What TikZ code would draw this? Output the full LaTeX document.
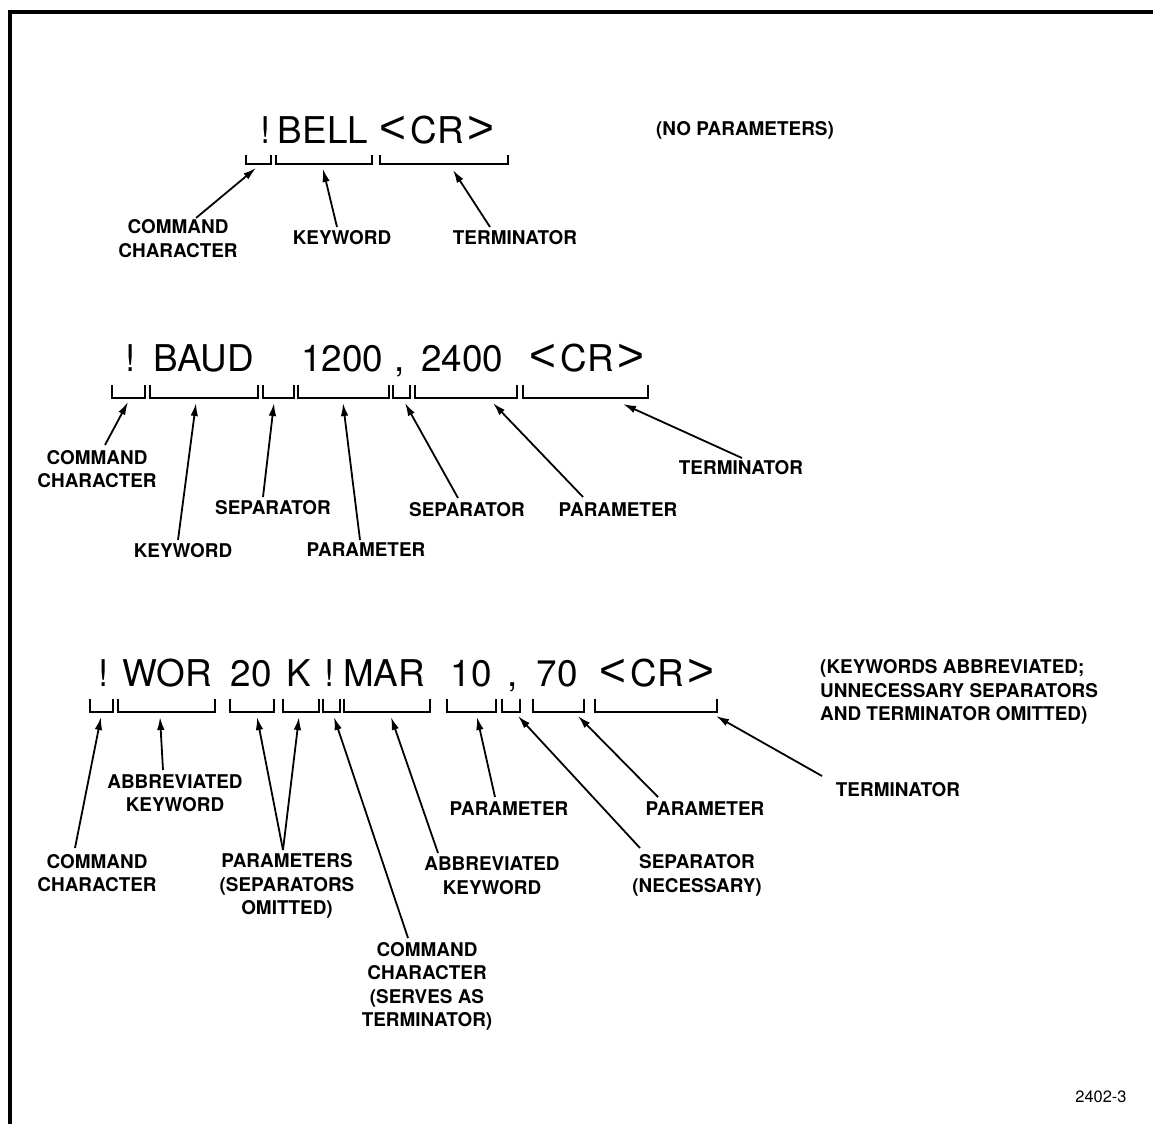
\documentclass[tikz,border=0pt]{standalone}
\usepackage{graphicx}
\usepackage{fontspec}
\setmainfont{TeX Gyre Heros}
\newfontfamily\ltfont{Liberation Sans}
\usetikzlibrary{arrows.meta}
\newcommand{\ubrk}[4]{\draw[brk] (#1,#3) -- (#1,#4) -- (#2,#4) -- (#2,#3);}
\newcommand{\cmdlt}{\scalebox{1.25}[1.27]{\ltfont <}}
\newcommand{\cmdgt}{\scalebox{1.25}[1.27]{\ltfont >}}
\newcommand{\crtok}{\cmdlt\hspace{4bp}CR\hspace{4bp}\cmdgt}
\begin{document}
\begin{tikzpicture}[x=1bp,y=-1bp,
  brk/.style={line width=2.6bp, line cap=butt, line join=miter},
  arr/.style={line width=1.8bp, -{Latex[length=13bp,width=7.5bp]}},
  cmd/.style={font=\fontsize{37}{40}\selectfont, anchor=base, inner sep=0pt},
  lbl/.style={font=\fontsize{19}{23.5}\selectfont\bfseries, align=center, inner sep=0pt},
  frame/.style={line width=4bp}]
\useasboundingbox (0,0) rectangle (1153,1124);
% frame
\draw[frame] (9.5,1124) -- (9.5,12) -- (1153,12);

% ---------------- Row 1 ----------------
\node[cmd] (r1a) at (266,143) {!};
\node[cmd] (r1b) at (323,143) {BELL};
\node[cmd] (r1c) at (437,143) {\crtok};
\node[lbl] (r1note) at (745,130) {(NO PARAMETERS)};
\ubrk{246}{271}{155}{164}
\ubrk{276}{372}{155}{164}
\ubrk{380}{508}{155}{164}
\node[lbl] (l1a) at (178,238.5) {COMMAND\\CHARACTER};
\node[lbl] (l1b) at (342,237.5) {KEYWORD};
\node[lbl] (l1c) at (515,237.5) {TERMINATOR};
\coordinate (t1a) at (196,218); \coordinate (h1a) at (256,168);
\coordinate (t1b) at (337,227); \coordinate (h1b) at (323,169);
\coordinate (t1c) at (490,227); \coordinate (h1c) at (453,170);
\draw[arr] (t1a) -- (h1a);
\draw[arr] (t1b) -- (h1b);
\draw[arr] (t1c) -- (h1c);

% ---------------- Row 2 ----------------
\node[cmd] (r2a) at (131,371) {!};
\node[cmd] (r2b) at (204,371) {BAUD};
\node[cmd] (r2c) at (342,371) {1200};
\node[cmd] (r2d) at (400,371) {,};
\node[cmd] (r2e) at (462,371) {2400};
\node[cmd] (r2f) at (587,371) {\crtok};
\ubrk{112}{145}{385}{398}
\ubrk{150}{258}{385}{398}
\ubrk{263}{294}{385}{398}
\ubrk{298}{389}{385}{398}
\ubrk{393}{410}{385}{398}
\ubrk{415}{517}{385}{398}
\ubrk{523}{648}{385}{398}
\node[lbl] (l2a) at (97,469) {COMMAND\\CHARACTER};
\node[lbl] (l2b) at (183,551) {KEYWORD};
\node[lbl] (l2c) at (273,508) {SEPARATOR};
\node[lbl] (l2d) at (366,550) {PARAMETER};
\node[lbl] (l2e) at (467,510) {SEPARATOR};
\node[lbl] (l2f) at (618,510) {PARAMETER};
\node[lbl] (l2g) at (741,468) {TERMINATOR};
\coordinate (t2a) at (105,445); \coordinate (h2a) at (128,402);
\coordinate (t2b) at (178,540); \coordinate (h2b) at (196,403);
\coordinate (t2c) at (263,497); \coordinate (h2c) at (274,403);
\coordinate (t2d) at (360,540); \coordinate (h2d) at (343,403);
\coordinate (t2e) at (458,498); \coordinate (h2e) at (405,403);
\coordinate (t2f) at (583,497); \coordinate (h2f) at (493,403);
\coordinate (t2g) at (742,458); \coordinate (h2g) at (623,404);
\foreach \i in {a,b,c,d,e,f,g} {\draw[arr] (t2\i) -- (h2\i);}

% ---------------- Row 3 ----------------
\node[cmd] (r3a) at (104,686) {!};
\node[cmd] (r3b) at (167,686) {WOR};
\node[cmd] (r3c) at (251,686) {20};
\node[cmd] (r3d) at (299,686) {K};
\node[cmd] (r3e) at (330,686) {!};
\node[cmd] (r3f) at (384,686) {MAR};
\node[cmd] (r3g) at (471,686) {10};
\node[cmd] (r3h) at (513,686) {,};
\node[cmd] (r3i) at (557,686) {70};
\node[cmd] (r3j) at (657,686) {\crtok};
\ubrk{90}{113}{699}{712}
\ubrk{118}{215}{699}{712}
\ubrk{230}{274}{699}{712}
\ubrk{283}{319}{699}{712}
\ubrk{323}{340}{699}{712}
\ubrk{344}{430}{699}{712}
\ubrk{447}{496}{699}{712}
\ubrk{502}{520}{699}{712}
\ubrk{533}{584}{699}{712}
\ubrk{595}{717}{699}{712}
\node[lbl, anchor=west, align=left] (r3note) at (820,692) {(KEYWORDS ABBREVIATED;\\UNNECESSARY SEPARATORS\\AND TERMINATOR OMITTED)};
\node[lbl] (l3a) at (97,873) {COMMAND\\CHARACTER};
\node[lbl] (l3b) at (175,793) {ABBREVIATED\\KEYWORD};
\node[lbl] (l3c) at (287,886) {PARAMETERS\\(SEPARATORS\\OMITTED)};
\node[lbl] (l3d) at (427,986.5) {COMMAND\\CHARACTER\\(SERVES AS\\TERMINATOR)};
\node[lbl] (l3e) at (492,875.5) {ABBREVIATED\\KEYWORD};
\node[lbl] (l3f) at (509,809) {PARAMETER};
\node[lbl] (l3g) at (697,875.5) {SEPARATOR\\(NECESSARY)};
\node[lbl] (l3h) at (705,809) {PARAMETER};
\node[lbl] (l3i) at (898,790) {TERMINATOR};
\coordinate (t3a) at (75,848);  \coordinate (h3a) at (101,717);
\coordinate (t3b) at (163,770); \coordinate (h3b) at (160,717);
\coordinate (t3c) at (283,850); \coordinate (h3c) at (257,717);
\coordinate (h3c2) at (299,717);
\coordinate (t3d) at (408,938); \coordinate (h3d) at (334,717);
\coordinate (t3e) at (438,853); \coordinate (h3e) at (391,717);
\coordinate (t3f) at (495,797); \coordinate (h3f) at (477,717);
\coordinate (t3g) at (640,848); \coordinate (h3g) at (518,716);
\coordinate (t3h) at (658,797); \coordinate (h3h) at (578,716);
\coordinate (t3i) at (822,776); \coordinate (h3i) at (716,716);
\foreach \i in {a,b,c,d,e,f,g,h,i} {\draw[arr] (t3\i) -- (h3\i);}
\draw[arr] (t3c) -- (h3c2);

\node[font=\fontsize{16.5}{16.5}\selectfont, inner sep=0pt] (fig) at (1101,1097) {2402-3};
\end{tikzpicture}
\end{document}
